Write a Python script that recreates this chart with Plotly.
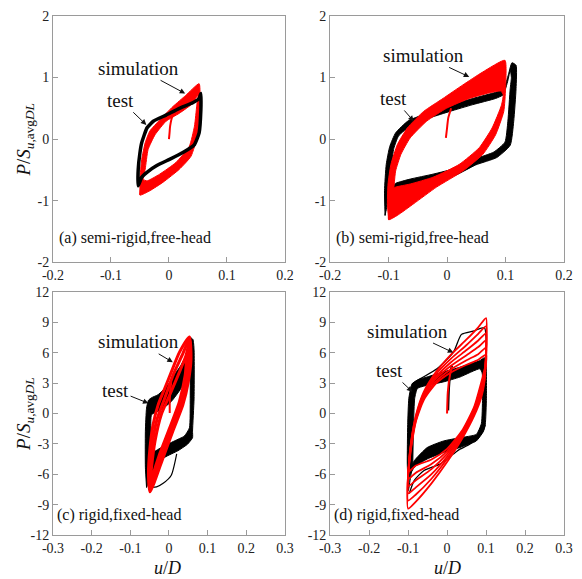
import plotly.graph_objects as go

SERIF = "Liberation Serif"
RED = "#ff0000"
BLK = "#000000"

# ---------------- data ----------------
# x ticks / y ticks
x_ticks_top = [-0.2, -0.1, 0, 0.1, 0.2]
x_text_top = ["-0.2", "-0.1", "0", "0.1", "0.2"]
y_ticks_top = [-2, -1, 0, 1, 2]
y_text_top = ["-2", "-1", "0", "1", "2"]
x_ticks_bot = [-0.3, -0.2, -0.1, 0, 0.1, 0.2, 0.3]
x_text_bot = ["-0.3", "-0.2", "-0.1", "0", "0.1", "0.2", "0.3"]
y_ticks_bot = [-12, -9, -6, -3, 0, 3, 6, 9, 12]
y_text_bot = ["-12", "-9", "-6", "-3", "0", "3", "6", "9", "12"]

# panel (a) semi-rigid, free-head (amplitude 0.05)
a_test_u = [-0.053, -0.053, -0.050, -0.047, -0.038, -0.027, -0.005, 0.018, 0.041, 0.052, 0.055,
            0.055, 0.052, 0.044, 0.024, 0.001, -0.021, -0.038, -0.047, -0.053]
a_test_P = [-0.76, -0.49, -0.22, -0.06, 0.18, 0.29, 0.39, 0.50, 0.59, 0.66, 0.74,
            0.47, 0.10, -0.09, -0.22, -0.33, -0.43, -0.54, -0.62, -0.76]
a_sim_out_u = [-0.050, -0.050, -0.047, -0.041, -0.033, -0.016, 0.007, 0.029, 0.052,
               0.053, 0.049, 0.038, 0.018, -0.010, -0.033, -0.050]
a_sim_out_P = [-0.91, -0.65, -0.33, -0.06, 0.13, 0.31, 0.53, 0.71, 0.90,
               0.47, 0.05, -0.28, -0.49, -0.70, -0.84, -0.91]
a_sim_in_u = [-0.045, -0.041, -0.036, -0.024, -0.005, 0.018, 0.041, 0.050,
              0.048, 0.044, 0.035, 0.012, -0.016, -0.038, -0.045]
a_sim_in_P = [-0.66, -0.49, -0.17, 0.07, 0.29, 0.42, 0.58, 0.72,
              0.55, 0.21, -0.12, -0.38, -0.57, -0.68, -0.66]
a_init_u = [0.000, 0.001, 0.002, 0.006, 0.014]
a_init_P = [0.00, 0.10, 0.21, 0.37, 0.45]

# panel (b) semi-rigid, free-head (amplitude 0.1)
b_test_out_u = [-0.106, -0.107, -0.104, -0.098, -0.088, -0.066, -0.030, 0.005, 0.044, 0.083, 0.097,
                0.105, 0.111, 0.118, 0.118, 0.114, 0.108, 0.085, 0.049, 0.016, -0.024, -0.063,
                -0.092, -0.103, -0.106]
b_test_out_P = [-1.24, -0.84, -0.41, -0.12, 0.10, 0.30, 0.43, 0.55, 0.66, 0.76, 0.82,
                1.05, 1.24, 1.20, 0.82, 0.29, -0.10, -0.30, -0.42, -0.58, -0.68, -0.76,
                -0.84, -1.05, -1.24]
b_test_in_u = [-0.096, -0.095, -0.091, -0.083, -0.062, -0.028, 0.005, 0.044, 0.083, 0.096,
               0.104, 0.108, 0.110, 0.108, 0.104, 0.099, 0.080, 0.049, 0.016, -0.024,
               -0.063, -0.088, -0.096]
b_test_in_P = [-0.80, -0.41, -0.15, 0.05, 0.22, 0.35, 0.45, 0.56, 0.66, 0.72,
               0.95, 1.12, 1.00, 0.82, 0.29, -0.05, -0.21, -0.32, -0.47, -0.57,
               -0.65, -0.72, -0.80]
b_sim_out_u = [-0.100, -0.102, -0.101, -0.096, -0.085, -0.068, -0.040, -0.007, 0.027, 0.061, 0.099,
               0.100, 0.097, 0.083, 0.061, 0.027, -0.018, -0.057, -0.085, -0.100]
b_sim_out_P = [-1.31, -1.05, -0.73, -0.41, -0.09, 0.18, 0.45, 0.66, 0.88, 1.09, 1.28,
               0.82, 0.45, 0.07, -0.25, -0.52, -0.78, -1.05, -1.24, -1.31]
b_sim_in_u = [-0.091, -0.088, -0.079, -0.063, -0.035, -0.001, 0.038, 0.072, 0.092,
              0.096, 0.093, 0.077, 0.055, 0.021, -0.024, -0.063, -0.088, -0.091]
b_sim_in_P = [-0.80, -0.52, -0.25, 0.02, 0.29, 0.50, 0.66, 0.75, 0.78,
              0.72, 0.55, 0.18, -0.14, -0.41, -0.62, -0.73, -0.78, -0.80]
b_init_u = [-0.002, 0.000, 0.002, 0.007]
b_init_P = [0.02, 0.18, 0.34, 0.50]

# panel (c) rigid, fixed-head (amplitude 0.05)
c_test_out_u = [-0.058, -0.061, -0.061, -0.058, -0.053, -0.045, -0.028, -0.003, 0.014, 0.031, 0.048,
                0.055, 0.062, 0.065, 0.065, 0.061, 0.061, 0.048, 0.023, -0.011, -0.036, -0.050, -0.058]
c_test_out_P = [-7.3, -5.3, -1.75, 0.52, 1.3, 1.55, 1.85, 2.8, 3.8, 4.75, 6.05,
                7.5, 7.3, 6.3, 1.5, -1.75, -2.4, -3.04, -3.69, -4.34, -5.31, -6.3, -7.3]
c_test_in_u = [-0.047, -0.047, -0.045, -0.020, 0.006, 0.031, 0.048, 0.051, 0.053,
               0.055, 0.055, 0.053, 0.040, 0.014, -0.020, -0.045, -0.047]
c_test_in_P = [-4.8, -1.5, -0.13, 0.36, 1.17, 2.46, 3.76, 5.05, 6.5,
               5.0, 1.5, -1.42, -2.23, -2.72, -3.37, -4.01, -4.8]
c_test_extra_u = [0.020, 0.006, -0.015, -0.032, -0.045]
c_test_extra_P = [-4.0, -6.1, -6.9, -7.25, -7.3]
c_sim1_u = [-0.049, -0.053, -0.049, -0.041, -0.028, -0.011, 0.006, 0.027, 0.053,
            0.057, 0.050, 0.036, 0.010, -0.015, -0.036, -0.049]
c_sim1_P = [-7.74, -5.95, -3.37, -1.10, 0.84, 2.46, 4.08, 6.02, 7.54,
            5.37, 3.11, 0.84, -1.75, -4.34, -6.60, -7.74]
c_sim2_u = [-0.050, -0.050, -0.043, -0.031, -0.011, 0.012, 0.036, 0.053,
            0.052, 0.046, 0.032, 0.006, -0.020, -0.040, -0.050]
c_sim2_P = [-7.5, -5.6, -3.0, -0.6, 1.5, 3.9, 5.9, 7.4,
            5.7, 3.4, 1.0, -1.6, -4.2, -6.45, -7.5]
c_sim3_u = [-0.049, -0.045, -0.036, -0.020, 0.002, 0.027, 0.044, 0.053,
            0.047, 0.042, 0.027, 0.002, -0.024, -0.043, -0.049]
c_sim3_P = [-7.2, -5.31, -2.72, -0.13, 1.82, 4.08, 5.70, 7.2,
            6.02, 3.76, 1.17, -1.42, -4.01, -6.28, -7.2]
c_init_u = [0.002, 0.002, 0.003, 0.006]
c_init_P = [0.03, 1.0, 2.2, 3.1]

# panel (d) rigid, fixed-head (amplitude 0.1)
d_test_out_u = [-0.099, -0.102, -0.101, -0.098, -0.090, -0.076, -0.051, -0.009, 0.033, 0.084, 0.096,
                0.100, 0.101, 0.098, 0.093, 0.075, 0.033, -0.009, -0.051, -0.084, -0.096, -0.099]
d_test_out_P = [-7.6, -5.0, -1.1, 1.5, 2.9, 3.3, 3.6, 4.1, 4.56, 5.21, 5.5,
                5.0, 1.5, -1.1, -1.8, -2.72, -3.37, -3.85, -4.5, -5.31, -6.2, -7.6]
d_test_in_u = [-0.088, -0.086, -0.083, -0.076, -0.051, -0.009, 0.033, 0.084,
               0.090, 0.091, 0.088, 0.075, 0.033, -0.009, -0.051, -0.084, -0.088]
d_test_in_P = [-5.0, -1.1, 1.5, 2.46, 2.78, 3.11, 3.59, 4.40,
               4.0, 1.5, -1.0, -2.07, -2.40, -2.72, -3.37, -4.66, -5.0]
d_test_up_u = [-0.090, -0.068, -0.026, 0.016, 0.037, 0.067, 0.096, 0.100, 0.101]
d_test_up_P = [2.9, 3.43, 4.40, 6.02, 7.8, 8.12, 8.45, 7.5, 5.0]
d_test_lo_u = [0.098, 0.092, 0.058, 0.033, 0.016, -0.017, -0.059, -0.084, -0.097]
d_test_lo_P = [-1.1, -1.75, -3.04, -3.53, -4.01, -4.98, -5.63, -6.60, -7.9]
d_test_init_u = [0.003, 0.005, 0.010, 0.013]
d_test_init_P = [0.3, 2.5, 4.4, 4.7]
d_sim_init_u = [0.000, 0.002, 0.008, 0.013]
d_sim_init_P = [0.00, 2.14, 3.9, 4.6]
d_sim_u = [-0.100, -0.098, -0.092, -0.080, -0.060, -0.030, 0.010, 0.050, 0.080, 0.100,
           0.100, 0.096, 0.088, 0.070, 0.040, 0.000, -0.040, -0.080, -0.100]
d_sim_P1 = [-5.8, -5.3, -3.4, -0.8, 1.3, 2.9, 4.05, 4.8, 5.3, 5.8,
            5.0, 4.3, 3.1, 0.7, -1.6, -3.5, -4.55, -5.15, -5.8]
d_sim_P2 = [-6.5, -5.2, -3.2, -0.7, 1.45, 3.1, 4.35, 5.25, 5.85, 6.5,
            5.4, 4.1, 2.8, 0.55, -1.75, -3.75, -5.0, -5.85, -6.5]
d_sim_P3 = [-7.2, -5.15, -3.05, -0.55, 1.6, 3.35, 4.7, 5.75, 6.55, 7.2,
            5.7, 3.9, 2.5, 0.35, -1.9, -4.0, -5.5, -6.6, -7.2]
d_sim_P4 = [-7.9, -5.1, -2.9, -0.45, 1.8, 3.55, 5.05, 6.25, 7.2, 7.9,
            5.9, 3.6, 2.1, 0.15, -2.05, -4.25, -6.0, -7.3, -7.9]
d_sim_P5 = [-8.6, -5.05, -2.8, -0.3, 1.95, 3.8, 5.4, 6.75, 7.85, 8.6,
            6.1, 3.35, 1.85, 0.0, -2.2, -4.5, -6.45, -8.0, -8.6]
d_sim_P6 = [-9.4, -5.0, -2.7, -0.2, 2.1, 4.0, 5.8, 7.3, 8.5, 9.4,
            6.3, 3.1, 1.6, -0.2, -2.4, -4.8, -6.9, -8.7, -9.4]

# ---------------- figure ----------------
fig = go.Figure()


def ring(ou, oP, iu, iP):
    """band between an outer loop and an inner loop (inner traversed backwards)."""
    return list(ou) + list(iu)[::-1], list(oP) + list(iP)[::-1]


def add_band(ou, oP, iu, iP, color, xa, ya, smooth=0.5):
    u, p = ring(ou, oP, iu, iP)
    fig.add_trace(go.Scatter(x=u, y=p, mode="lines", fill="toself", fillcolor=color,
                             line=dict(color=color, width=1, shape="spline", smoothing=smooth),
                             xaxis=xa, yaxis=ya, hoverinfo="skip", showlegend=False))


def add_line(u, p, color, width, xa, ya, smooth=0.6):
    fig.add_trace(go.Scatter(x=u, y=p, mode="lines",
                             line=dict(color=color, width=width, shape="spline", smoothing=smooth),
                             xaxis=xa, yaxis=ya, hoverinfo="skip", showlegend=False))


# (a): simulation underneath, test on top
add_band(a_sim_out_u, a_sim_out_P, a_sim_in_u, a_sim_in_P, RED, "x", "y")
add_line(a_init_u, a_init_P, RED, 2, "x", "y")
add_line(a_test_u, a_test_P, BLK, 3.5, "x", "y", 0.4)

# (b)
add_band(b_test_out_u, b_test_out_P, b_test_in_u, b_test_in_P, BLK, "x2", "y2")
add_band(b_sim_out_u, b_sim_out_P, b_sim_in_u, b_sim_in_P, RED, "x2", "y2")
add_line(b_init_u, b_init_P, RED, 2, "x2", "y2")

# (c)
add_band(c_test_out_u, c_test_out_P, c_test_in_u, c_test_in_P, BLK, "x3", "y3")
add_line(c_test_extra_u, c_test_extra_P, BLK, 1.2, "x3", "y3")
for cu, cp in [(c_sim1_u, c_sim1_P), (c_sim2_u, c_sim2_P), (c_sim3_u, c_sim3_P)]:
    add_line(cu, cp, RED, 3, "x3", "y3")
add_line(c_init_u, c_init_P, RED, 2, "x3", "y3")

# (d)
add_band(d_test_out_u, d_test_out_P, d_test_in_u, d_test_in_P, BLK, "x4", "y4")
add_line(d_test_up_u, d_test_up_P, BLK, 1.3, "x4", "y4")
add_line(d_test_lo_u, d_test_lo_P, BLK, 1.3, "x4", "y4")
add_line(d_test_init_u, d_test_init_P, BLK, 2, "x4", "y4")
for dp in [d_sim_P1, d_sim_P2, d_sim_P3, d_sim_P4, d_sim_P5, d_sim_P6]:
    add_line(d_sim_u, dp, RED, 1.8, "x4", "y4")
add_line(d_sim_init_u, d_sim_init_P, RED, 2, "x4", "y4")

# ---------------- axes ----------------
W, H = 582, 579
ML, MR, MT, MB = 53, 9, 10, 44
pw, ph = W - ML - MR, H - MT - MB


def fx(px):
    return (px - ML) / pw


def fy(py):
    return (H - MB - py) / ph


common = dict(showline=True, linecolor="#9a9a9a", linewidth=1, mirror=True,
              ticks="inside", ticklen=5, tickcolor="#9a9a9a", showgrid=False,
              zeroline=False, tickfont=dict(family=SERIF, size=14, color="#222222"))

xd_left = [0, fx(289)]
xd_right = [fx(335), 1]
yd_top = [fy(259), 1]
yd_bot = [0, fy(289)]

fig.update_layout(
    xaxis=dict(domain=xd_left, anchor="y", range=[-0.2, 0.2], tickvals=x_ticks_top, ticktext=x_text_top, **common),
    yaxis=dict(domain=yd_top, anchor="x", range=[-2, 2], tickvals=y_ticks_top, ticktext=y_text_top, **common),
    xaxis2=dict(domain=xd_right, anchor="y2", range=[-0.2, 0.2], tickvals=x_ticks_top, ticktext=x_text_top, **common),
    yaxis2=dict(domain=yd_top, anchor="x2", range=[-2, 2], tickvals=y_ticks_top, ticktext=y_text_top, **common),
    xaxis3=dict(domain=xd_left, anchor="y3", range=[-0.3, 0.3], tickvals=x_ticks_bot, ticktext=x_text_bot, **common),
    yaxis3=dict(domain=yd_bot, anchor="x3", range=[-12, 12], tickvals=y_ticks_bot, ticktext=y_text_bot, **common),
    xaxis4=dict(domain=xd_right, anchor="y4", range=[-0.3, 0.3], tickvals=x_ticks_bot, ticktext=x_text_bot, **common),
    yaxis4=dict(domain=yd_bot, anchor="x4", range=[-12, 12], tickvals=y_ticks_bot, ticktext=y_text_bot, **common),
)

ann = []


def label(xr, yr, x, y, text, size=19, anchor="center"):
    ann.append(dict(xref=xr, yref=yr, x=x, y=y, text=text, showarrow=False,
                    xanchor=anchor, yanchor="middle", font=dict(family=SERIF, size=size, color="#111111")))


def pointer(xr, yr, tx, ty, hx, hy, text):
    """text centred at (tx, ty) with an arrow to (hx, hy)."""
    ann.append(dict(xref=xr, yref=yr, axref=xr, ayref=yr, x=hx, y=hy, ax=tx, ay=ty, text=text,
                    showarrow=True, arrowhead=2, arrowsize=1.1, arrowwidth=1, arrowcolor="#111111",
                    font=dict(family=SERIF, size=19, color="#111111")))


# (a)
pointer("x", "y", -0.053, 1.15, 0.028, 0.74, "simulation")
pointer("x", "y", -0.083, 0.63, -0.039, 0.23, "test")
label("x", "y", -0.193, -1.61, "(a) semi-rigid,free-head", 16, "left")
# (b)
pointer("x2", "y2", -0.040, 1.36, 0.038, 1.01, "simulation")
pointer("x2", "y2", -0.091, 0.66, -0.057, 0.29, "test")
label("x2", "y2", -0.193, -1.61, "(b) semi-rigid,free-head", 16, "left")
# (c)
pointer("x3", "y3", -0.079, 7.06, 0.010, 5.05, "simulation")
pointer("x3", "y3", -0.138, 2.30, -0.053, 1.0, "test")
label("x3", "y3", -0.295, -10.0, "(c) rigid,fixed-head", 16, "left")
# (d)
pointer("x4", "y4", -0.101, 8.13, 0.016, 6.0, "simulation")
pointer("x4", "y4", -0.147, 4.24, -0.089, 2.14, "test")
label("x4", "y4", -0.294, -10.0, "(d) rigid,fixed-head", 16, "left")

# axis titles
YT = "<i>P</i>/<i>S</i><sub><i>u</i>,avg<i>DL</i></sub>"
for yc in [(10 + 259) / 2, (289 + 535) / 2]:
    ann.append(dict(xref="paper", yref="paper", x=fx(25), y=fy(yc), text=YT, showarrow=False,
                    textangle=-90, xanchor="center", yanchor="middle",
                    font=dict(family=SERIF, size=19, color="#111111")))
for xc in [170, 454]:
    ann.append(dict(xref="paper", yref="paper", x=fx(xc), y=fy(568), text="<i>u</i>/<i>D</i>",
                    showarrow=False, xanchor="center", yanchor="middle",
                    font=dict(family=SERIF, size=18, color="#111111")))

fig.update_layout(width=W, height=H, margin=dict(l=ML, r=MR, t=MT, b=MB),
                  paper_bgcolor="white", plot_bgcolor="white", annotations=ann,
                  font=dict(family=SERIF, color="#222222"), showlegend=False)

fig.write_html("out.html")
